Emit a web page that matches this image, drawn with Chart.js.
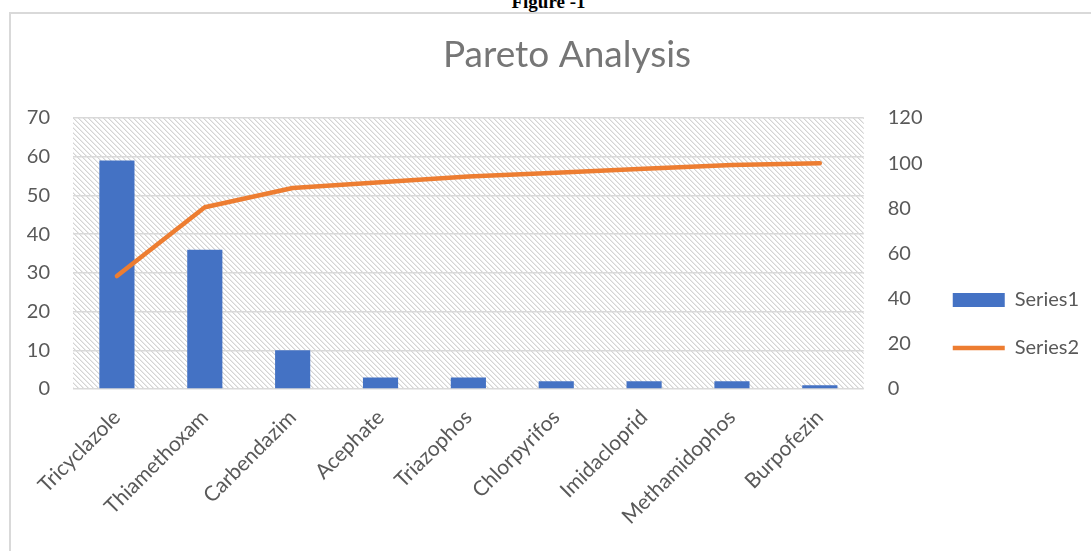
<!DOCTYPE html>
<html>
<head>
<meta charset="utf-8">
<script src="https://cdn.jsdelivr.net/npm/chart.js@4"></script>
<style>
    body { margin: 0; background: #fff; overflow: hidden; }
    #fig { position: absolute; top: -9px; left: 0; width: 1097px; text-align: center;
           font: bold 19px "Liberation Serif", serif; color: #000; }
    #frame { position: absolute; left: 9px; top: 12px; width: 1100px; height: 600px;
             border: 2px solid #d9d9d9; }
    #wrap { position: absolute; left: 0; top: 0; width: 1091px; height: 551px; }
</style>
</head>
<body>
<div id="fig">Figure -1</div>
<div id="frame"></div>
<div id="wrap"><canvas id="pareto"></canvas></div>
<script>
const categorias = ['Tricyclazole', 'Thiamethoxam', 'Carbendazim', 'Acephate', 'Triazophos',
    'Chlorpyrifos', 'Imidacloprid', 'Methamidophos', 'Burpofezin'];
const series1 = [59, 36, 10, 3, 3, 2, 2, 2, 1];
const series2 = [50, 80.5, 89, 91.5, 94.1, 95.8, 97.5, 99.2, 100];
const eixoEsq = { min: 0, max: 70, step: 10 };
const eixoDir = { min: 0, max: 120, step: 20 };

const cinza = '#595959';

// fundo hachurado da area do grafico
function hachura() {
    const tile = document.createElement('canvas');
    tile.width = 5;
    tile.height = 5;
    const t = tile.getContext('2d');
    t.fillStyle = '#ffffff';
    t.fillRect(0, 0, 5, 5);
    for (let x = 0; x < 5; x++) {
        for (let y = 0; y < 5; y++) {
            const d = ((x - y) % 5 + 5) % 5;
            if (d == 0) { t.fillStyle = '#d4d4d4'; t.fillRect(x, y, 1, 1); }
            if (d == 1) { t.fillStyle = '#ebebeb'; t.fillRect(x, y, 1, 1); }
        }
    }
    return tile;
}

const fundoPlugin = {
    id: 'fundo',
    afterLayout(chart) {
        // titulo centrado um pouco mais a direita, como no Excel
        if (chart.titleBlock) chart.titleBlock.left += 25;
    },
    beforeDraw(chart) {
        const ctx = chart.ctx;
        const a = chart.chartArea;
        ctx.save();
        ctx.fillStyle = ctx.createPattern(hachura(), 'repeat');
        ctx.fillRect(a.left, a.top, a.right - a.left, a.bottom - a.top);
        ctx.restore();
    }
};

Chart.defaults.font.family = 'Lato, "Open Sans", sans-serif';
Chart.defaults.color = cinza;

const grafico = new Chart(document.getElementById('pareto'), {
    type: 'bar',
    data: {
        labels: categorias,
        datasets: [{
            label: 'Series1',
            data: series1,
            backgroundColor: '#4472C4',
            borderWidth: 0,
            barPercentage: 0.4,
            categoryPercentage: 1,
            pointStyle: 'rect',
            yAxisID: 'y',
            order: 2
        }, {
            type: 'line',
            label: 'Series2',
            data: series2,
            borderColor: '#ED7D31',
            backgroundColor: '#ED7D31',
            borderWidth: 4.5,
            borderCapStyle: 'round',
            borderJoinStyle: 'round',
            pointRadius: 0,
            pointStyle: 'line',
            tension: 0,
            fill: false,
            yAxisID: 'y1',
            order: 1
        }]
    },
    options: {
        responsive: true,
        maintainAspectRatio: false,
        animation: false,
        layout: { padding: { top: 14, left: 20, right: 2, bottom: 25 } },
        plugins: {
            title: {
                display: true,
                text: 'Pareto Analysis',
                color: '#767676',
                font: { size: 37, weight: 'normal' },
                padding: { top: 18.8, bottom: 40.8 }
            },
            legend: {
                position: 'right',
                title: { display: true, text: '', padding: { top: 0, bottom: 93.6 } },
                labels: {
                    usePointStyle: true,
                    pointStyleWidth: 52,
                    boxHeight: 14,
                    padding: 28,
                    color: cinza,
                    font: { size: 20 },
                    sort: (a, b) => a.datasetIndex - b.datasetIndex
                }
            },
            tooltip: { enabled: false }
        },
        scales: {
            x: {
                grid: { display: false },
                border: { display: false },
                ticks: {
                    autoSkip: false,
                    minRotation: 45,
                    maxRotation: 45,
                    padding: 8,
                    font: { size: 21 }
                },
                afterFit: (scale) => { scale.height = 137; }
            },
            y: {
                position: 'left',
                min: eixoEsq.min,
                max: eixoEsq.max,
                ticks: { stepSize: eixoEsq.step, padding: 23, font: { size: 20 } },
                grid: { color: '#d9d9d9', lineWidth: 1.5, drawTicks: false },
                border: { display: false },
                afterFit: (scale) => { scale.width = 53; }
            },
            y1: {
                position: 'right',
                min: eixoDir.min,
                max: eixoDir.max,
                ticks: { stepSize: eixoDir.step, padding: 24, font: { size: 20 } },
                grid: { display: false, drawTicks: false },
                border: { display: false },
                afterFit: (scale) => { scale.width = 61; }
            }
        }
    },
    plugins: [fundoPlugin]
});
</script>
</body>
</html>
